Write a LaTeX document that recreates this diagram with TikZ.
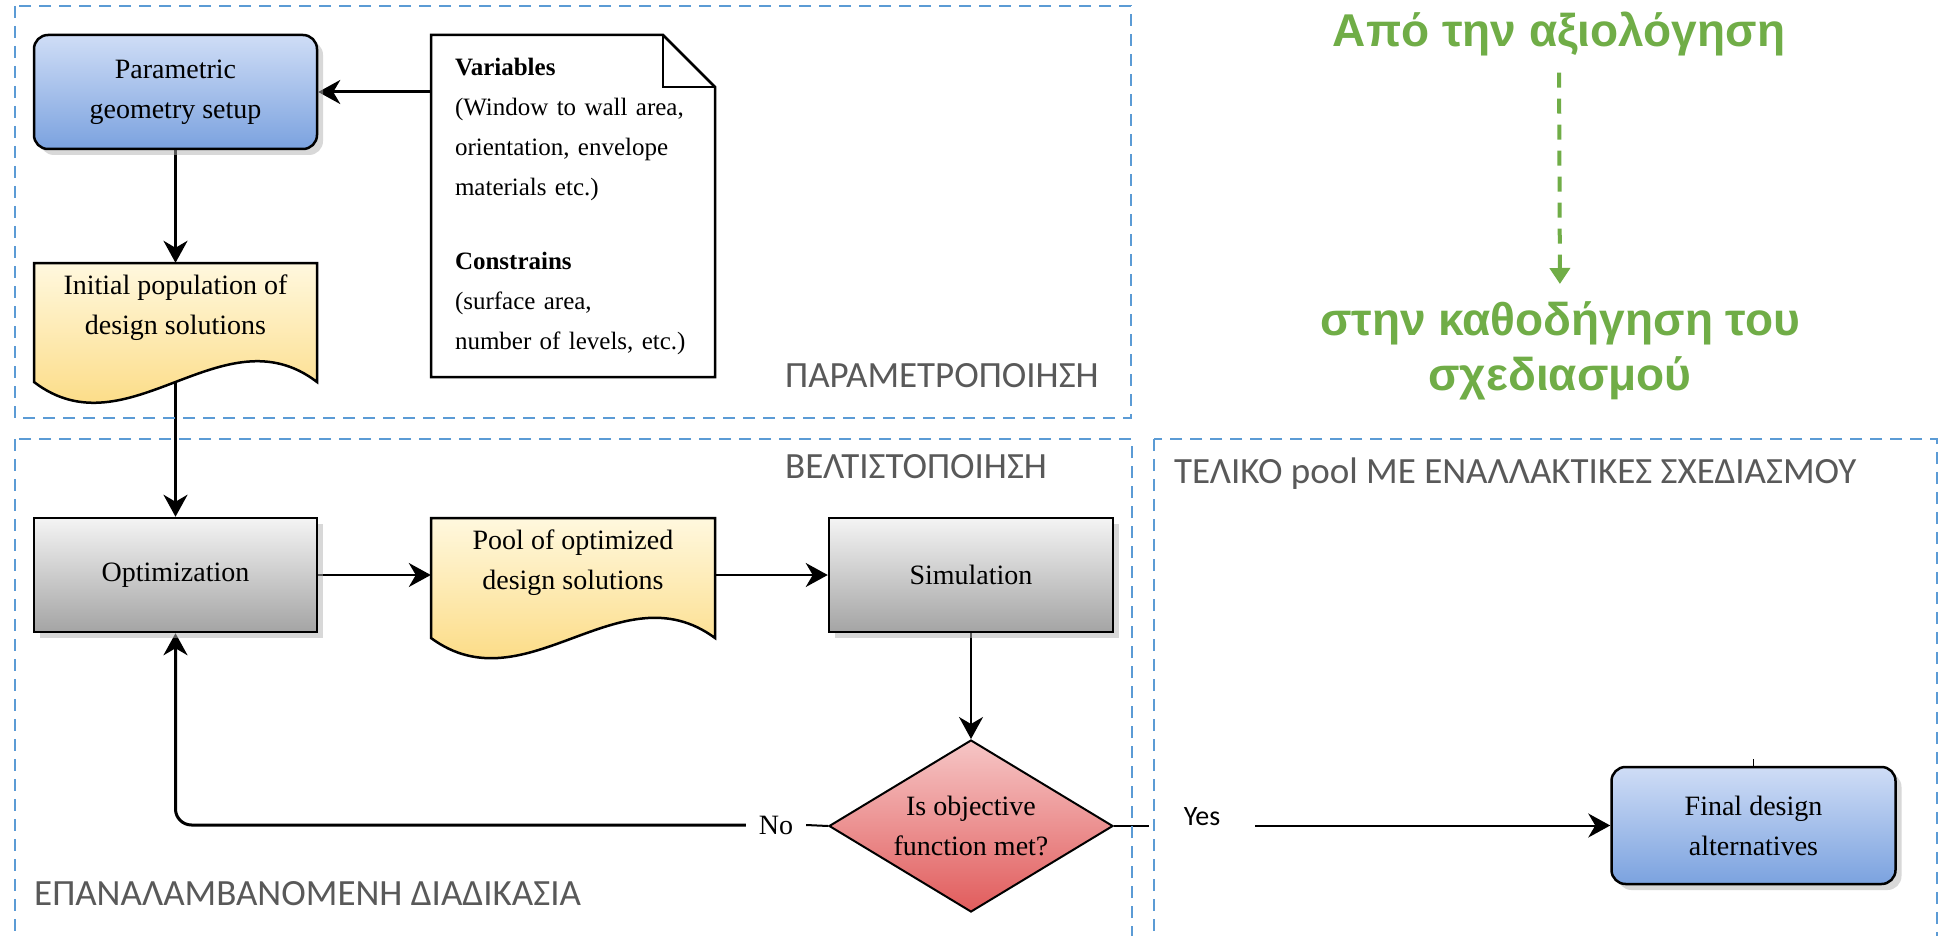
\documentclass[tikz,border=0pt]{standalone}
\usepackage{fontspec}
\setmainfont{Liberation Serif}
\newfontfamily\calibri{Carlito}
\newfontfamily\arialfont{Liberation Sans}
\usetikzlibrary{shapes.geometric,arrows.meta,shadows,calc}
\pgfdeclarelayer{back}
\pgfdeclarelayer{bg}
\pgfsetlayers{back,bg,main}
\definecolor{dashblue}{HTML}{5B9BD5}
\definecolor{greentxt}{HTML}{70AD47}
\definecolor{graytxt}{HTML}{595959}
\definecolor{bluetop}{HTML}{CFDDF6}
\definecolor{bluebot}{HTML}{7BA2DF}
\definecolor{graytop}{HTML}{F4F4F4}
\definecolor{graybot}{HTML}{A4A4A4}
\definecolor{yeltop}{HTML}{FFF8DE}
\definecolor{yelbot}{HTML}{FBD36A}
\definecolor{redtop}{HTML}{F6C6C6}
\definecolor{redbot}{HTML}{E15C5C}
\begin{document}
\begin{tikzpicture}[x=1pt,y=-1pt,
  zone/.style={draw=dashblue, line width=2.5pt, dash pattern=on 12pt off 8pt},
  tip/.style={-{Stealth[length=22pt,width=24pt,inset=7pt]}},
  thickconn/.style={tip, line width=3pt},
  thinconn/.style={line width=2pt},
  procbox/.style={draw=black, line width=2.5pt, minimum width=283pt, minimum height=114pt,
    inner sep=0pt, align=center, font=\fontsize{28}{40}\selectfont,
    drop shadow={shadow xshift=6pt, shadow yshift=-6pt, fill=black!30}},
  bluebox/.style={procbox, rounded corners=14pt, top color=bluetop, bottom color=bluebot},
  graybox/.style={procbox, top color=graytop, bottom color=graybot},
  doctext/.style={minimum width=283pt, minimum height=90pt, inner sep=0pt, align=center,
    font=\fontsize{28}{40}\selectfont},
  docshape/.style={draw=black, line width=2.5pt},
  zonelabel/.style={anchor=base west, inner sep=0pt, text=graytxt,
    font=\calibri\fontsize{37}{44}\selectfont},
  greenlabel/.style={inner sep=0pt, text=greentxt, align=center,
    font=\arialfont\bfseries\fontsize{46}{55}\selectfont}
]
\useasboundingbox (0,0) rectangle (1946,936);
\begin{pgfonlayer}{back}
\fill[white] (0,0) rectangle (1946,936);
\end{pgfonlayer}

% zones
\draw[zone] (15,6) rectangle (1131,418);
\draw[zone] (15,439) rectangle (1132,960);
\draw[zone] (1154,439) rectangle (1937,960);

\node[zonelabel] (lbl1) at (785,387) {ΠΑΡΑΜΕΤΡΟΠΟΙΗΣΗ};
\node[zonelabel] (lbl2) at (785,478) {ΒΕΛΤΙΣΤΟΠΟΙΗΣΗ};
\node[zonelabel] (lbl3) at (34,905) {ΕΠΑΝΑΛΑΜΒΑΝΟΜΕΝΗ ΔΙΑΔΙΚΑΣΙΑ};
\node[zonelabel] (lbl4) at (1174,483) {ΤΕΛΙΚΟ pool ΜΕ ΕΝΑΛΛΑΚΤΙΚΕΣ ΣΧΕΔΙΑΣΜΟΥ};

% green titles
\node[greenlabel, anchor=base] (from) at (1559,47) {Από την αξιολόγηση};
\node[greenlabel, anchor=north] (to) at (1560,301) {στην καθοδήγηση του\\σχεδιασμού};
\draw[greentxt, line width=4pt, dash pattern=on 15pt off 11pt,
  -{Triangle[length=16pt,width=20pt]}, shorten <=16pt, shorten >=17pt] (from.south) -- (to.north);

% document shapes
\path[docshape, top color=yeltop, bottom color=yelbot]
  (34,263) -- (317,263) -- (317,382) .. controls (223,310) and (128,454) .. (34,382) -- cycle;
\path[docshape, top color=yeltop, bottom color=yelbot]
  (431,518) -- (715,518) -- (715,638) .. controls (620,568) and (526,708) .. (431,638) -- cycle;
\path[docshape, fill=white] (431,35) -- (663,35) -- (715,87) -- (715,377) -- (431,377) -- cycle;
\draw[docshape] (663,35) -- (663,87) -- (715,87);

% nodes
\node[bluebox] (param) at (175.5,92) {Parametric\\geometry setup};
\node[doctext] (init) at (175.5,308) {Initial population of\\design solutions};
\node[minimum width=284pt, minimum height=342pt, inner xsep=24pt, inner ysep=0pt,
  text width=236pt, align=left, font=\fontsize{25}{40}\selectfont] (vars) at (573,206)
  {\textbf{Variables}\\(Window to wall area,\\orientation, envelope\\materials etc.)\\[34pt]
   \textbf{Constrains}\\(surface area,\\number of levels, etc.)};
\node[graybox] (opt) at (175.5,575) {Optimization};
\node[doctext, minimum width=284pt] (pool) at (573,563) {Pool of optimized\\design solutions};
\node[graybox, minimum width=284pt] (sim) at (971,575) {Simulation};
\node[diamond, draw=black, line width=2pt, shape aspect=1.65, minimum width=284pt, minimum height=172pt,
  inner sep=0pt, align=center, top color=redtop, bottom color=redbot,
  font=\fontsize{28}{40}\selectfont] (dia) at (971,826) {Is objective\\function met?};
\node[inner sep=0pt, minimum width=60pt, font=\fontsize{28}{34}\selectfont] (no) at (776,825) {No};
\node[inner sep=0pt, minimum width=106pt, font=\calibri\fontsize{28}{34}\selectfont] (yes) at (1202,817) {Yes};
\node[bluebox, minimum width=284pt, minimum height=117pt] (final) at (1753.5,825.5) {Final design\\alternatives};
\draw[line width=1.5pt] (final.north) -- ++(0,-7);

% connectors
\begin{pgfonlayer}{bg}
\draw[thickconn] (vars.west |- param.east) -- (param.east);
\draw[thickconn] (param.south) -- (init.north);
\draw[thickconn] (init.south) -- (opt.north);
\draw[thinconn, tip] (opt.east) -- (opt.east -| pool.west);
\draw[thinconn, tip] (sim.west -| pool.east) -- (sim.west);
\draw[thinconn, tip] (sim.south) -- (dia.north);
\draw[thinconn] (dia.west) -- (no.east);
\draw[thickconn, rounded corners=16pt] (no.west) -| (opt.south);
\draw[line width=1.5pt] (dia.east) -- (dia.east -| yes.west);
\draw[thinconn, tip] (final.west -| yes.east) -- (final.west);
\end{pgfonlayer}
\end{tikzpicture}
\end{document}
